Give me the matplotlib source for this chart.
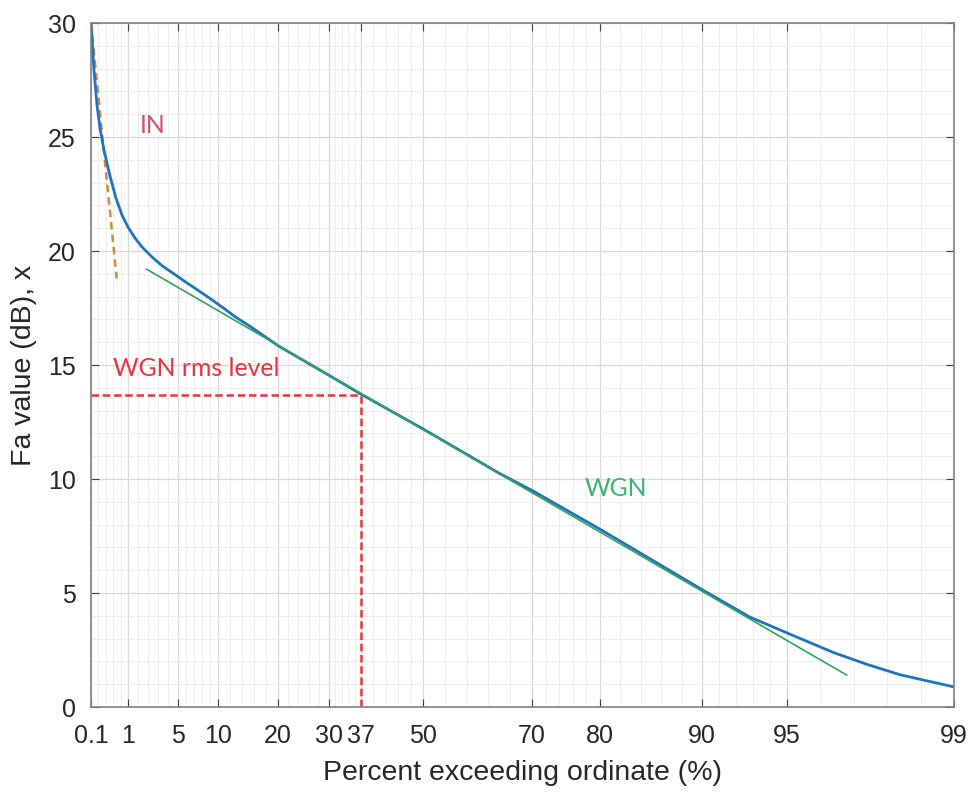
import matplotlib
matplotlib.use("Agg")
import matplotlib.pyplot as plt
import numpy as np

# x axis: percent exceeding ordinate, tick labels and where they sit along the axis (0..1)
tick_pct = [0.1, 1, 5, 10, 20, 30, 37, 50, 70, 80, 90, 95, 99]
tick_pos = [0.0, 0.0429, 0.1008, 0.1472, 0.2167, 0.2758, 0.3129, 0.3847,
            0.5110, 0.5898, 0.7080, 0.8065, 1.0]

# measured amplitude probability distribution (blue)
apd_pct = [0.1, 0.124, 0.173, 0.246, 0.319, 0.416, 0.562, 0.708, 0.854, 1.0,
           1.56, 2.12, 2.92, 3.72, 4.76, 5.875, 7.75, 9.25, 11.17, 12.83, 15.33,
           20, 30, 37, 50, 64, 70, 80, 90,
           92.8, 95, 96.1, 96.9, 97.7, 99]
apd_db = [30.0, 29.39, 27.94, 26.40, 25.39, 24.43, 23.29, 22.32, 21.58, 21.05,
          20.57, 20.18, 19.74, 19.36, 18.97, 18.66, 18.22, 17.86, 17.45, 17.12, 16.70,
          15.85, 14.55, 13.72, 12.2, 10.25, 9.5, 7.8, 5.15,
          3.95, 3.25, 2.4, 1.88, 1.42, 0.88]

# WGN asymptote (green) and IN asymptote (orange dashed)
wgn_pct = [2.5, 96.43]
wgn_db = [19.2, 1.40]
in_pct = [0.1, 0.725]
in_db = [30.0, 18.8]

rms_pct = 37
rms_db = 13.7


def fwd(p):
    return np.interp(p, tick_pct, tick_pos)


def inv(u):
    return np.interp(u, tick_pos, tick_pct)


minor_x = []
for a, b in zip(tick_pct[:-1], tick_pct[1:]):
    minor_x += [a + (b - a) * k / 5 for k in range(1, 5)]

fig = plt.figure(figsize=(9.72, 7.92), dpi=100)
ax = fig.add_axes([0.0936, 0.1073, 0.8879, 0.8636])
ax.set_xscale('function', functions=(fwd, inv))
ax.set_xlim(0.1, 99)
ax.set_ylim(0, 30)

ax.set_xticks(tick_pct)
ax.set_xticklabels([f'{t:g}' for t in tick_pct])
ax.set_xticks(minor_x, minor=True)
ax.set_yticks(np.arange(0, 31, 5))
ax.set_yticks(np.arange(0, 31, 1), minor=True)

ax.grid(which='major', color='#d9d9d9', lw=0.9)
ax.grid(which='minor', color='#eeeeee', lw=0.7)
ax.set_axisbelow(True)

ax.plot(rms_pct * np.ones(2), [0, rms_db], '--', color='#e8343f', lw=1.8, dashes=(3, 1.5))
ax.plot([0.1, rms_pct], [rms_db, rms_db], '--', color='#e8343f', lw=1.8, dashes=(3, 1.5))
ax.plot(in_pct, in_db, '--', color='#d4893a', lw=1.8, dashes=(3, 2))
ax.plot(apd_pct, apd_db, color='#1f74c0', lw=2.0)
ax.plot(wgn_pct, wgn_db, color='#33a35c', lw=1.2)

afont = dict(family='Lato', fontsize=17.8)
ax.text(1.96, 25.5, 'IN', color='#d4506a', va='center', **afont)
ax.text(0.64, 14.83, 'WGN rms level', color='#e8343f', va='center', **afont)
ax.text(77.8, 9.58, 'WGN', color='#3cb371', va='center', **afont)

for s in ax.spines.values():
    s.set_color('#808080')
    s.set_linewidth(1.2)
ax.tick_params(which='major', direction='in', top=True, right=True, length=6,
               color='#404040', labelsize=18, labelcolor='#262626', pad=12)
ax.tick_params(which='minor', length=0, top=True, right=True)
ax.tick_params(axis='y', which='major', pad=11)
for lab in ax.get_xticklabels() + ax.get_yticklabels():
    lab.set_family('Liberation Sans')

ax.set_xlabel('Percent exceeding ordinate (%)', fontsize=20.5, family='Liberation Sans',
              color='#262626', labelpad=9)
ax.set_ylabel('Fa value (dB), x', fontsize=20.5, family='Liberation Sans',
              color='#262626', labelpad=8)

fig.savefig('out.png', dpi=100)
